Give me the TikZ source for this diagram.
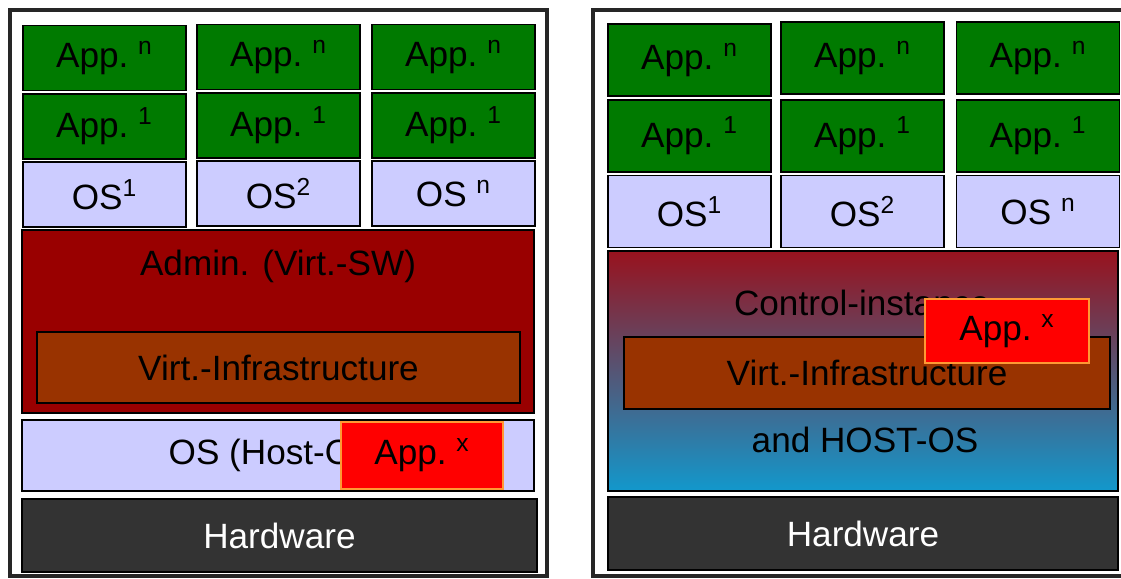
\documentclass[tikz,border=0pt]{standalone}
\usepackage{fontspec}
\setmainfont{Liberation Sans}
\usetikzlibrary{positioning}
\definecolor{appgreen}{RGB}{0,122,0}
\definecolor{oslilac}{RGB}{204,204,255}
\definecolor{admred}{RGB}{153,0,0}
\definecolor{infrabrown}{RGB}{153,51,0}
\definecolor{hwgray}{RGB}{51,51,51}
\definecolor{appred}{RGB}{255,0,0}
\definecolor{apporange}{RGB}{255,153,51}
\definecolor{ctltop}{RGB}{152,18,30}
\definecolor{ctlmid}{RGB}{122,96,140}
\definecolor{ctlbot}{RGB}{18,152,204}

\begin{document}
\begin{tikzpicture}[x=0.02cm, y=-0.02cm, font=\fontsize{20}{24}\selectfont]

        % Define styles
        \tikzstyle{layer} = [rectangle, draw, line width=1pt, inner sep=0pt, align=center]
        \tikzstyle{appbox} = [layer, fill=appgreen, minimum width=3.26cm, minimum height=1.3cm]
        \tikzstyle{osbox} = [layer, fill=oslilac, minimum width=3.26cm, minimum height=1.3cm]
        \tikzstyle{appxbox} = [layer, draw=apporange, line width=0.8pt, fill=appred]
        \tikzstyle{hwbox} = [layer, fill=hwgray, text=white, minimum height=1.46cm]
        \tikzstyle{frame} = [draw=black!85, line width=1.8pt]

        \useasboundingbox (0,0) rectangle (1121,578);

        % Frames
        \draw[frame] (10,10) rectangle (547,576);
        \draw[frame] (1121,10) -- (593,10) -- (593,576) -- (1121,576);

        % Left: guests (top to bottom)
        \node[appbox] (l1n) at (104.5,58) {App.\ \textsuperscript{n}};
        \node[appbox, below=0.03cm of l1n] (l1a) {App.\ \textsuperscript{1}};
        \node[osbox, below=0.03cm of l1a] (l1os) {OS\textsuperscript{1}};
        \node[appbox] (l2n) at (278.5,57) {App.\ \textsuperscript{n}};
        \node[appbox, below=0.03cm of l2n] (l2a) {App.\ \textsuperscript{1}};
        \node[osbox, below=0.03cm of l2a] (l2os) {OS\textsuperscript{2}};
        \node[appbox] (l3n) at (453.5,57) {App.\ \textsuperscript{n}};
        \node[appbox, below=0.03cm of l3n] (l3a) {App.\ \textsuperscript{1}};
        \node[osbox, below=0.03cm of l3a] (l3os) {OS\ \textsuperscript{n}};

        % Left: admin, host and hardware
        \node[layer, fill=admred, minimum width=10.24cm, minimum height=3.66cm] (ladmin) at (278,321.5) {};
        \node (ladmintext) at (278,266) {Admin. (Virt.-SW)};
        \node[layer, fill=infrabrown, minimum width=9.66cm, minimum height=1.42cm] (linfra) at (278.5,367.5) {Virt.-Infrastructure};
        \node[layer, fill=oslilac, minimum width=10.24cm, minimum height=1.42cm] (lhost) at (278,455.5) {OS (Host-OS)};
        \node[appxbox, minimum width=3.24cm, minimum height=1.34cm] (lappx) at (422,455.5) {App.\ \textsuperscript{x}};
        \node[hwbox, minimum width=10.3cm] (lhw) at (279.5,535.5) {Hardware};

        % Right: guests (top to bottom)
        \node[appbox, minimum height=1.44cm] (r1n) at (689.5,60) {App.\ \textsuperscript{n}};
        \node[appbox, minimum height=1.44cm, below=0.04cm of r1n] (r1a) {App.\ \textsuperscript{1}};
        \node[osbox, minimum height=1.44cm, below=0.04cm of r1a] (r1os) {OS\textsuperscript{1}};
        \node[appbox, minimum height=1.44cm] (r2n) at (862.5,58) {App.\ \textsuperscript{n}};
        \node[appbox, minimum height=1.44cm, below=0.08cm of r2n] (r2a) {App.\ \textsuperscript{1}};
        \node[osbox, minimum height=1.44cm, below=0.04cm of r2a] (r2os) {OS\textsuperscript{2}};
        \node[appbox, minimum height=1.44cm] (r3n) at (1038,58) {App.\ \textsuperscript{n}};
        \node[appbox, minimum height=1.44cm, below=0.08cm of r3n] (r3a) {App.\ \textsuperscript{1}};
        \node[osbox, minimum height=1.44cm, below=0.04cm of r3a] (r3os) {OS\ \textsuperscript{n}};

        % Right: control instance with host OS, and hardware
        \node[layer, top color=ctltop, middle color=ctlmid, bottom color=ctlbot, minimum width=10.2cm, minimum height=4.8cm] (rctl) at (863,371) {};
        \node (rctltext) at (862,303) {Control-instance};
        \node (rhosttext) at (865,440) {and HOST-OS};
        \node[layer, fill=infrabrown, minimum width=9.72cm, minimum height=1.44cm] (rinfra) at (867,373) {Virt.-Infrastructure};
        \node[appxbox, minimum width=3.28cm, minimum height=1.28cm] (rappx) at (1007,331) {App.\ \textsuperscript{x}};
        \node[hwbox, minimum width=10.2cm] (rhw) at (863,533.5) {Hardware};

    \end{tikzpicture}
\end{document}
